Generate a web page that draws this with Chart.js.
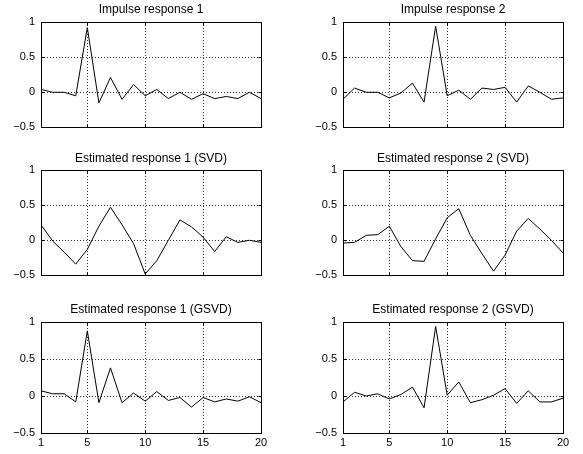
<!DOCTYPE html>
<html><head><meta charset="utf-8">
<script src="https://cdn.jsdelivr.net/npm/chart.js@4"></script>
<style>
body{margin:0;background:#fff;width:583px;height:454px;position:relative;overflow:hidden}
canvas{position:absolute}
</style></head><body>
<canvas id="c0" width="302" height="140" style="left:0;top:0"></canvas>
<canvas id="c1" width="306" height="140" style="left:300px;top:0"></canvas>
<canvas id="c2" width="302" height="140" style="left:0;top:148px"></canvas>
<canvas id="c3" width="306" height="140" style="left:300px;top:148px"></canvas>
<canvas id="c4" width="302" height="154" style="left:0;top:300px"></canvas>
<canvas id="c5" width="306" height="154" style="left:300px;top:300px"></canvas>
<script>
const xValues = [1,2,3,4,5,6,7,8,9,10,11,12,13,14,15,16,17,18,19,20];
const xTicks = [1,5,10,15,20];
const yTicks = [-0.5,0,0.5,1];
const titles = ["Impulse response 1","Impulse response 2","Estimated response 1 (SVD)","Estimated response 2 (SVD)","Estimated response 1 (GSVD)","Estimated response 2 (GSVD)"];
const impulse1 = [0.04,0.0,0.0,-0.05,0.92,-0.15,0.21,-0.10,0.11,-0.05,0.04,-0.09,0.0,-0.10,-0.02,-0.09,-0.06,-0.09,0.0,-0.09];
const impulse2 = [-0.10,0.06,0.0,0.0,-0.08,-0.01,0.13,-0.14,0.94,-0.05,0.03,-0.10,0.06,0.04,0.07,-0.14,0.09,0.0,-0.10,-0.08];
const svd1 = [0.22,-0.01,-0.17,-0.34,-0.13,0.20,0.47,0.22,-0.05,-0.48,-0.29,0.0,0.29,0.19,0.045,-0.16,0.05,-0.03,0.0,-0.03];
const svd2 = [-0.04,-0.03,0.07,0.08,0.20,-0.09,-0.29,-0.30,0.02,0.32,0.45,0.07,-0.19,-0.44,-0.21,0.13,0.31,0.16,0.0,-0.18];
const gsvd1 = [0.07,0.03,0.03,-0.08,0.88,-0.09,0.38,-0.09,0.04,-0.07,0.06,-0.06,-0.02,-0.15,-0.02,-0.08,-0.04,-0.07,-0.01,-0.09];
const gsvd2 = [-0.08,0.05,0.0,0.03,-0.04,0.02,0.12,-0.16,0.94,0.01,0.19,-0.09,-0.05,0.01,0.10,-0.10,0.07,-0.08,-0.08,-0.03];
const series = [impulse1,impulse2,svd1,svd2,gsvd1,gsvd2];

const FONT = "'Liberation Sans', Arial, Helvetica, sans-serif";
const titlePads = [{top:2,bottom:5.6},{top:3.8,bottom:3.8},{top:2.8,bottom:4.8}];

const boxPlugin = {
  id:'box',
  afterDatasetsDraw(chart){
    const ctx = chart.ctx, a = chart.chartArea;
    const xs = chart.scales.x, ys = chart.scales.y;
    ctx.save();
    ctx.strokeStyle = '#000';
    ctx.lineWidth = 1;
    ctx.setLineDash([]);
    const L = Math.round(a.left)+0.5, R = Math.round(a.right)+0.5, T = Math.round(a.top)+0.5, B = Math.round(a.bottom)+0.5;
    ctx.strokeRect(L, T, R-L, B-T);
    ctx.beginPath();
    xTicks.forEach(v=>{
      const px = Math.round(xs.getPixelForValue(v))+0.5;
      ctx.moveTo(px,B); ctx.lineTo(px,B-3);
      ctx.moveTo(px,T); ctx.lineTo(px,T+3);
    });
    yTicks.forEach(v=>{
      const py = Math.round(ys.getPixelForValue(v))+0.5;
      ctx.moveTo(L,py); ctx.lineTo(L+3,py);
      ctx.moveTo(R,py); ctx.lineTo(R-3,py);
    });
    ctx.stroke();
    ctx.restore();
  }
};

function fmt(v){
  return String(v).replace('-', '\u2212');
}

series.forEach((data, i) => {
  const col = i % 2, row = Math.floor(i/2), bottomRow = row === 2;
  const yWidth = col === 0 ? 41 : 43;
  new Chart(document.getElementById('c'+i), {
    type:'line',
    data:{labels:xValues, datasets:[{data:data.map((v,k)=>({x:xValues[k], y:v})), borderColor:'#000', borderWidth:1, pointRadius:0, tension:0, fill:false}]},
    options:{
      responsive:false, animation:false, events:[],
      layout:{padding:{top:0,left:0,right:0,bottom: bottomRow ? 0 : 5}},
      plugins:{
        legend:{display:false}, tooltip:{enabled:false},
        title:{display:true, text:titles[i], color:'#000', font:{family:FONT, size:12, weight:'normal'}, padding:titlePads[row]}
      },
      scales:{
        x:{type:'linear', min:1, max:20,
          afterBuildTicks(s){ s.ticks = xTicks.map(v=>({value:v})); },
          afterFit(s){ s.height = bottomRow ? 21 : 0; },
          ticks:{display:bottomRow, color:'#000', padding:3, maxRotation:0, autoSkip:false, font:{family:FONT, size:11}},
          grid:{color:'#333', lineWidth:1, drawTicks:false},
          border:{display:false, dash:[1,2]}
        },
        y:{type:'linear', min:-0.5, max:1,
          afterBuildTicks(s){ s.ticks = yTicks.map(v=>({value:v})); },
          afterFit(s){ s.width = yWidth; },
          ticks:{color:'#000', padding:6, font:{family:FONT, size:11}, callback:(v)=>fmt(v)},
          grid:{color:'#333', lineWidth:1, drawTicks:false},
          border:{display:false, dash:[1,2]}
        },
        yr:{type:'linear', position:'right', min:-0.5, max:1,
          afterFit(s){ s.width = yWidth; },
          ticks:{display:false},
          grid:{display:false, drawTicks:false},
          border:{display:false}
        }
      }
    },
    plugins:[boxPlugin]
  });
});
</script>
</body></html>
